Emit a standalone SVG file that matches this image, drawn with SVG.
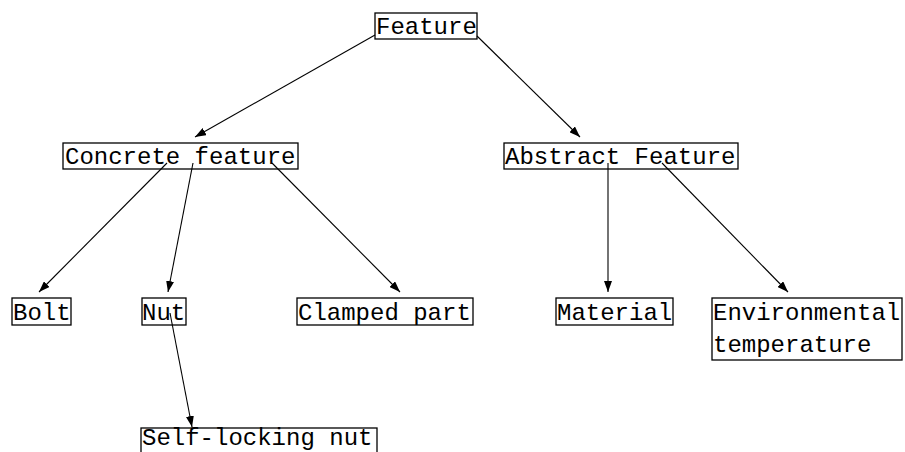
<svg xmlns="http://www.w3.org/2000/svg" width="905" height="452" viewBox="0 0 905 452">
<style>
.box{fill:none;stroke:#000;stroke-width:1.3}
.t{font-family:"Liberation Mono","Courier New",monospace;font-size:24px;fill:#000}
.e{stroke:#000;stroke-width:1.1;fill:none;marker-end:url(#ah)}
</style>
<defs>
<marker id="ah" viewBox="0 0 11 8" refX="11" refY="4" markerWidth="11" markerHeight="8" markerUnits="userSpaceOnUse" orient="auto">
<path d="M0,0 L11,4 L0,8 z" fill="#000"/>
</marker>
</defs>
<rect width="905" height="452" fill="#fff"/>
<g id="connectors">
<line class="e" x1="375" y1="35" x2="195" y2="137"/>
<line class="e" x1="477" y1="36" x2="580" y2="137"/>
<line class="e" x1="167" y1="163" x2="39" y2="292"/>
<line class="e" x1="193" y1="163" x2="168" y2="292"/>
<line class="e" x1="272" y1="163" x2="400" y2="292"/>
<line class="e" x1="608" y1="163" x2="608" y2="292"/>
<line class="e" x1="662" y1="163" x2="788" y2="292"/>
<line class="e" x1="170" y1="313" x2="192" y2="427"/>
</g>
<g id="feature"><rect class="box" x="375" y="13" width="102" height="26"/><text class="t" x="376" y="34">Feature</text></g>
<g id="concrete"><rect class="box" x="63" y="143" width="235" height="26"/><text class="t" x="65" y="164">Concrete feature</text></g>
<g id="abstract"><rect class="box" x="504" y="143" width="234" height="26"/><text class="t" x="505" y="164">Abstract Feature</text></g>
<g id="bolt"><rect class="box" x="12" y="298" width="59" height="27"/><text class="t" x="13" y="320">Bolt</text></g>
<g id="nut"><rect class="box" x="142" y="298" width="44" height="27"/><text class="t" x="142" y="320">Nut</text></g>
<g id="clamped"><rect class="box" x="297" y="298" width="176" height="27"/><text class="t" x="298" y="320">Clamped part</text></g>
<g id="material"><rect class="box" x="556" y="298" width="117" height="27"/><text class="t" x="557" y="320">Material</text></g>
<g id="env"><rect class="box" x="712" y="298" width="190" height="62"/><text class="t" x="713" y="320">Environmental</text><text class="t" x="713" y="352">temperature</text></g>
<g id="selflocking"><rect class="box" x="141" y="428" width="236" height="30"/><text class="t" x="142" y="445">Self-locking nut</text></g>
</svg>
